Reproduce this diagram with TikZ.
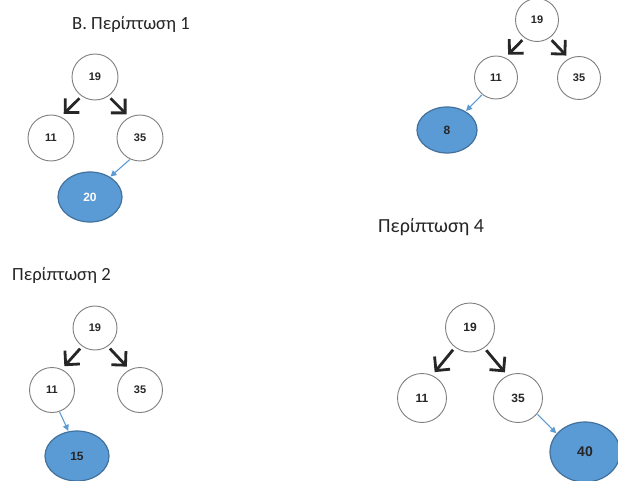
\documentclass[tikz,border=0pt]{standalone}
\usepackage{fontspec}
\setmainfont{Carlito}
\newfontfamily\numfont{Liberation Sans}
\usetikzlibrary{arrows.meta,shapes.geometric}
\definecolor{nodegray}{HTML}{7F7F7F}
\definecolor{officeblue}{HTML}{5B9BD5}
\definecolor{blueedge}{HTML}{41719C}
\definecolor{darktext}{HTML}{262626}
\begin{document}
\begin{tikzpicture}[x=1pt,y=-1pt,
  keynode/.style={circle, draw=nodegray, line width=0.9pt, fill=white, inner sep=0pt,
    minimum size=46pt, font=\numfont\bfseries\fontsize{11}{13}\selectfont, text=darktext},
  newnode/.style={ellipse, draw=blueedge, line width=1.2pt, fill=officeblue, inner sep=0pt,
    minimum width=64pt, minimum height=50pt, font=\numfont\bfseries\fontsize{12}{14}\selectfont, text=darktext},
  treearrow/.style={draw=black!85, line width=2.8pt, -{Straight Barb[length=10pt,width=20pt]},
    shorten <=3pt, shorten >=4pt},
  insarrow/.style={draw=officeblue, line width=1.1pt, -{Triangle[length=6pt,width=6pt]},
    shorten <=0.5pt, shorten >=0.5pt},
  title/.style={font=\fontsize{18.6}{21}\selectfont, text=darktext, inner sep=0pt, anchor=base west}
]
\useasboundingbox[fill=white] (0,0) rectangle (618,481);

% Panel 1
\node[title] (t1) at (72,30) {Β. Περίπτωση 1};
\node[keynode] (a19) at (95,77) {19};
\node[keynode] (a11) at (51,138) {11};
\node[keynode] (a35) at (140,138) {35};
\node[newnode, text=white] (a20) at (90,197) {20};
\draw[treearrow] (a19.-125) -- (a11.65);
\draw[treearrow] (a19.-55) -- (a35.117);
\draw[insarrow] (a35.-115) -- (a20.45);

% Panel 2 (top right)
\node[keynode, minimum size=43pt] (b19) at (537,20) {19};
\node[keynode, minimum size=43pt] (b11) at (496,77.5) {11};
\node[keynode, minimum size=43pt] (b35) at (579,78) {35};
\node[newnode, minimum width=60pt, minimum height=46pt] (b8) at (447,130) {8};
\draw[treearrow] (b19.-125) -- (b11.65);
\draw[treearrow] (b19.-55) -- (b35.117);
\draw[insarrow] (b11.-129) -- (b8.45);

% Panel 3
\node[title] (t2) at (12,280) {Περίπτωση 2};
\node[keynode, minimum size=44pt] (c19) at (95,328) {19};
\node[keynode, minimum size=45pt] (c11) at (52,390) {11};
\node[keynode, minimum size=45pt] (c35) at (140,390) {35};
\node[newnode] (c15) at (77,456) {15};
\draw[treearrow] (c19.-125) -- (c11.65);
\draw[treearrow] (c19.-55) -- (c35.117);
\draw[insarrow] (c11.-71) -- (c15.109);

% Panel 4
\node[title, font=\fontsize{20}{22}\selectfont] (t4) at (378,233) {Περίπτωση 4};
\node[keynode, minimum size=49pt, font=\numfont\bfseries\fontsize{12}{14}\selectfont] (d19) at (470,327.5) {19};
\node[keynode, minimum size=49pt, font=\numfont\bfseries\fontsize{12}{14}\selectfont] (d11) at (422,398) {11};
\node[keynode, minimum size=49pt, font=\numfont\bfseries\fontsize{12}{14}\selectfont] (d35) at (518,398) {35};
\node[newnode, minimum width=70pt, minimum height=60pt, font=\numfont\bfseries\fontsize{14}{16}\selectfont] (d40) at (585,452) {40};
\draw[treearrow] (d19.-127) -- (d11.66);
\draw[treearrow] (d19.-55) -- (d35.115);
\draw[insarrow] (d35.-40) -- (d40.147);
\end{tikzpicture}
\end{document}
